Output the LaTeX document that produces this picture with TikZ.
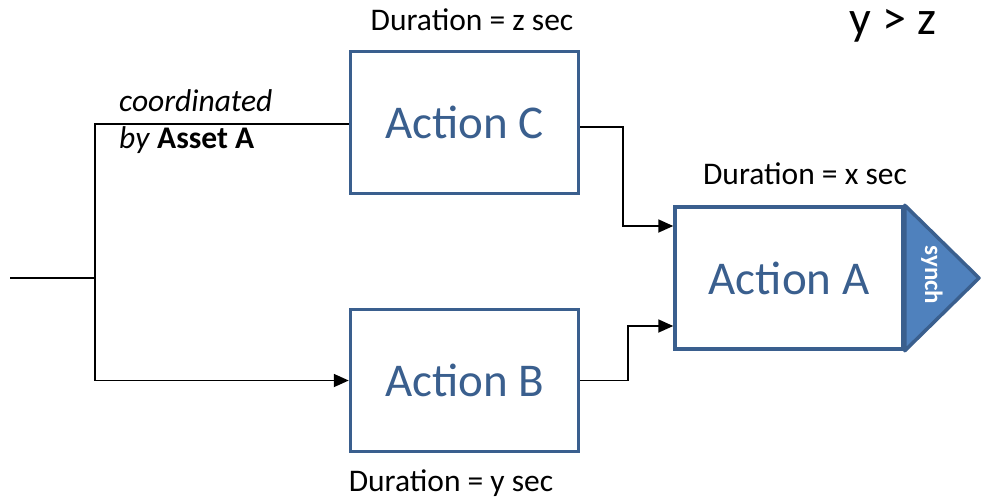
\documentclass[tikz,border=0pt]{standalone}
\usepackage{fontspec}
\setmainfont{Carlito}
\usetikzlibrary{arrows.meta}
\definecolor{boxedge}{HTML}{3A5F8E}
\definecolor{synchfill}{HTML}{4F81BD}
\begin{document}
\begin{tikzpicture}[x=1pt,y=-1pt,
  actionbox/.style={draw=boxedge,line width=3.5pt,fill=white,minimum width=228pt,minimum height=142pt,inner sep=0pt,
    font=\fontsize{47}{50}\selectfont,text=boxedge},
  wire/.style={line width=1.8pt,black},
  arr/.style={wire,-{Triangle[length=15pt,width=13pt]}},
  dur/.style={font=\fontsize{31.5}{34}\selectfont,inner sep=0pt}]
\useasboundingbox (0,0) rectangle (981,499);

% action boxes
\node[actionbox] (C) at (464.5,122.5) {Action C};
\node[actionbox] (B) at (464.5,380.5) {Action B};
\node[actionbox] (A) at (789,278) {Action A};

% synch flag on the right of Action A
\coordinate (tip) at (979,278);
\draw[draw=boxedge,fill=synchfill,line width=3.5pt,line join=round] (A.north east) -- (tip) -- (A.south east) -- cycle;
\node[rotate=-90,text=white,font=\bfseries\fontsize{25}{28}\selectfont,inner sep=0pt] (synch) at (932,275) {synch};

% duration labels
\node[dur] (dC) at (472,20) {Duration = z sec};
\node[dur] (dA) at (805,174) {Duration = x sec};
\node[dur] (dB) at (451,483) {Duration = y sec};
\node[font=\fontsize{48}{52}\selectfont,inner sep=0pt] (cmp) at (893,26) {y \textgreater{} z};

% coordination note
\node[anchor=west,font=\itshape\fontsize{31.5}{34}\selectfont,inner sep=0pt] (coord) at (119,101) {coordinated};
\node[anchor=west,font=\fontsize{31.5}{34}\selectfont,inner sep=0pt] (byasset) at (119,140) {\textit{by} \textbf{Asset A}};

% fork
\coordinate (in) at (10,278);
\coordinate (fork) at (95,278);
\draw[wire] (in) -- (fork);
\draw[wire] (fork) |- (C.west |- 0,124);
\draw[arr] (fork) |- (B.west);

% joins into Action A
\coordinate (jc) at (623,127);
\coordinate (jb) at (628,380.5);
\draw[arr] (C.east |- jc) -- (jc) |- (A.west |- 0,226);
\draw[arr] (B.east) -- (jb) |- (A.west |- 0,326);
\end{tikzpicture}
\end{document}
